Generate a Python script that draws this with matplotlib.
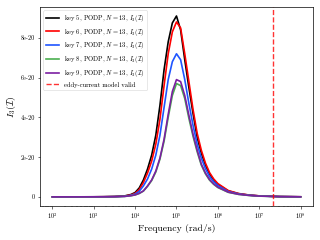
import matplotlib
matplotlib.use("Agg")
import matplotlib.pyplot as plt
import numpy as np
from matplotlib.ticker import FuncFormatter

plt.rcParams["font.family"] = "serif"
plt.rcParams["font.serif"] = ["cmr10", "DejaVu Serif"]
plt.rcParams["mathtext.fontset"] = "cm"
plt.rcParams["axes.unicode_minus"] = False
plt.rcParams["axes.formatter.use_mathtext"] = True

# log10 of angular frequency (rad/s)
LOG_OMEGA = [2.0, 2.5, 3.0, 3.25, 3.5, 3.75, 3.9, 4.0, 4.1, 4.2, 4.3, 4.4, 4.5, 4.6,
             4.7, 4.8, 4.9, 5.0, 5.1, 5.2, 5.3, 5.4, 5.5, 5.6, 5.7, 5.8, 5.9, 6.0,
             6.25, 6.5, 6.75, 7.0, 7.5, 8.0]

# I_3(I) values, in units of 1e-20
KEY5 = [0.0, 0.001, 0.004, 0.008, 0.018, 0.05, 0.12, 0.22, 0.45, 0.85, 1.4, 2.1, 3.1, 4.6,
        6.4, 7.8, 8.75, 9.1, 8.4, 6.9, 5.5, 4.2, 3.0, 2.2, 1.6, 1.15, 0.85, 0.63,
        0.3, 0.16, 0.09, 0.05, 0.015, 0.004]
KEY6 = [0.0, 0.001, 0.003, 0.007, 0.015, 0.04, 0.1, 0.18, 0.37, 0.72, 1.2, 1.8, 2.65, 3.9,
        5.6, 7.2, 8.3, 8.8, 8.5, 7.2, 5.8, 4.4, 3.2, 2.35, 1.7, 1.22, 0.9, 0.67,
        0.32, 0.17, 0.095, 0.05, 0.015, 0.004]
KEY7 = [0.0, 0.001, 0.003, 0.005, 0.012, 0.03, 0.08, 0.14, 0.28, 0.55, 0.9, 1.4, 2.1, 3.1,
        4.5, 5.9, 6.8, 7.2, 6.9, 5.9, 4.7, 3.6, 2.65, 1.95, 1.42, 1.02, 0.76, 0.57,
        0.27, 0.15, 0.085, 0.045, 0.013, 0.003]
KEY8 = [0.0, 0.0, 0.002, 0.004, 0.009, 0.024, 0.058, 0.1, 0.17, 0.29, 0.53, 0.82, 1.25, 1.9,
        2.8, 4.0, 5.1, 5.7, 5.6, 4.95, 3.95, 3.05, 2.27, 1.6, 1.16, 0.84, 0.63, 0.47,
        0.23, 0.125, 0.072, 0.038, 0.011, 0.003]
KEY9 = [0.0, 0.0, 0.002, 0.004, 0.009, 0.025, 0.06, 0.1, 0.18, 0.3, 0.55, 0.85, 1.3, 1.95,
        2.9, 4.15, 5.3, 5.9, 5.8, 5.1, 4.1, 3.15, 2.35, 1.65, 1.2, 0.87, 0.65, 0.49,
        0.24, 0.13, 0.075, 0.04, 0.012, 0.003]

KEYS = [5, 6, 7, 8, 9]
SERIES = [KEY5, KEY6, KEY7, KEY8, KEY9]
COLORS = ["black", "red", "#1f55ff", "#4caf50", "#7b1fa2"]
VALID_LIMIT = 2.2e7

omega = 10.0 ** np.array(LOG_OMEGA)

fig = plt.figure(figsize=(3.2, 2.4), dpi=100)
ax = fig.add_axes([0.125, 0.142, 0.853, 0.829])

for key, vals, col in zip(KEYS, SERIES, COLORS):
    ax.semilogx(omega, np.array(vals) * 1e-20, color=col, lw=1.2,
                label=rf"key {key}, PODP, $N=13$, $I_3(\mathcal{{I}})$")

ax.axvline(VALID_LIMIT, color="red", ls="--", lw=1.0, alpha=0.8,
           label="eddy-current model valid")

ax.yaxis.set_major_formatter(FuncFormatter(lambda v, p: "%g" % v))
ax.set_yticks([0, 2e-20, 4e-20, 6e-20, 8e-20])
ax.set_xlabel("Frequency (rad/s)", fontsize=7, labelpad=2)
ax.set_ylabel(r"$I_3(\mathcal{I})$", fontsize=7, labelpad=2)
ax.tick_params(labelsize=4.5, length=1.8, width=0.4, pad=2)
ax.tick_params(which="minor", length=1.0, width=0.3)
for s in ax.spines.values():
    s.set_linewidth(0.5)

ax.legend(loc="upper left", fontsize=4.7, handlelength=2.0, borderpad=0.4,
          labelspacing=0.42, frameon=True, framealpha=0.8,
          edgecolor="#cccccc").get_frame().set_linewidth(0.4)

fig.savefig("out.png", dpi=100)
